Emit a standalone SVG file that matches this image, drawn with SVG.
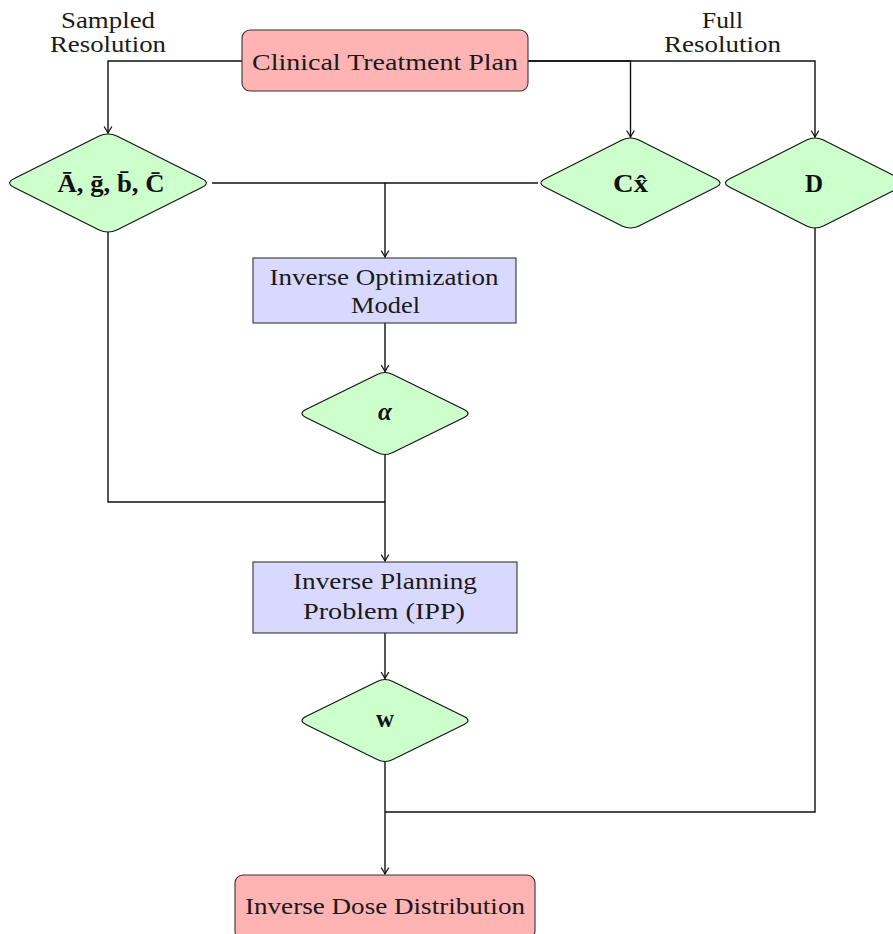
<svg xmlns="http://www.w3.org/2000/svg" xmlns:xlink="http://www.w3.org/1999/xlink" width="893" height="934" viewBox="0 0 893 934">
<style>
.t{font-family:"Liberation Serif","Times New Roman",serif;font-size:24px;fill:#1a1a1a;text-anchor:middle}
.m{font-family:"Liberation Serif","DejaVu Serif",serif;font-size:25px;font-weight:bold;fill:#111;text-anchor:middle}
.pink{fill:#ffb3b3;stroke:#333;stroke-width:1.1}
.blue{fill:#d9d9ff;stroke:#333;stroke-width:1.1}
.green{fill:#ccffcc;stroke:#111;stroke-width:1.1}
.c{fill:none;stroke:#111;stroke-width:1.4}
</style>
<defs>
<marker id="ah" viewBox="-8 -5 10 10" refX="0" refY="0" markerWidth="10" markerHeight="10" markerUnits="userSpaceOnUse" orient="auto">
<path d="M-6,-3.6 Q-2,-1 0,0 Q-2,1 -6,3.6" fill="none" stroke="#111" stroke-width="1.3" stroke-linecap="round"/>
</marker>
<path id="dL" d="M-9.3,-46.7 Q0,-51.3 9.3,-46.7 L93.7,-4.6 Q103,0 93.7,4.6 L9.3,46.7 Q0,51.3 -9.3,46.7 L-93.7,4.6 Q-103,0 -93.7,-4.6 Z"/>
<path id="dM" d="M-8.4,-42.9 Q0,-47.1 8.4,-42.9 L85.3,-4.2 Q93.7,0 85.3,4.2 L8.4,42.9 Q0,47.1 -8.4,42.9 L-85.3,4.2 Q-93.7,0 -85.3,-4.2 Z"/>
<path id="dS" d="M-7.8,-39 Q0,-42.9 7.8,-39 L79.1,-3.9 Q86.9,0 79.1,3.9 L7.8,39 Q0,42.9 -7.8,39 L-79.1,3.9 Q-86.9,0 -79.1,-3.9 Z"/>
</defs>
<rect width="893" height="934" fill="#fff"/>

<g id="connectors">
<path class="c" d="M242,61 H108 V133" marker-end="url(#ah)"/>
<path class="c" d="M528,61 H630.5 V137" marker-end="url(#ah)"/>
<path class="c" d="M528,61 H815 V137" marker-end="url(#ah)"/>
<path class="c" d="M212,183 H385 V257" marker-end="url(#ah)"/>
<path class="c" d="M538,183 H385"/>
<path class="c" d="M385,323 V371.5" marker-end="url(#ah)"/>
<path class="c" d="M108,232 V502 H385 V561" marker-end="url(#ah)"/>
<path class="c" d="M385,454.5 V502"/>
<path class="c" d="M385,633 V678.5" marker-end="url(#ah)"/>
<path class="c" d="M385,761.5 V874" marker-end="url(#ah)"/>
<path class="c" d="M815,228 V812 H385"/>
</g>

<g id="label-sampled">
<text class="t" x="108" y="28" textLength="94" lengthAdjust="spacingAndGlyphs">Sampled</text>
<text class="t" x="108" y="52" textLength="116" lengthAdjust="spacingAndGlyphs">Resolution</text>
</g>
<g id="label-full">
<text class="t" x="722.5" y="28" textLength="41" lengthAdjust="spacingAndGlyphs">Full</text>
<text class="t" x="722.5" y="52" textLength="117" lengthAdjust="spacingAndGlyphs">Resolution</text>
</g>

<g id="clinical">
<rect class="pink" x="242" y="30" width="286" height="61" rx="8"/>
<text class="t" x="385" y="70" textLength="266" lengthAdjust="spacingAndGlyphs">Clinical Treatment Plan</text>
</g>

<g id="sampled-data">
<use xlink:href="#dL" class="green" transform="translate(108,183)"/>
<text class="m" x="111" y="192" textLength="107" lengthAdjust="spacingAndGlyphs">A&#x304;, g&#x304;, b&#x304;, C&#x304;</text>
</g>

<g id="cx">
<use xlink:href="#dM" class="green" transform="translate(630.5,183)"/>
<text class="m" x="630.5" y="192" textLength="35" lengthAdjust="spacingAndGlyphs">Cx&#x302;</text>
</g>

<g id="d">
<use xlink:href="#dM" class="green" transform="translate(815,183)"/>
<text class="m" x="814" y="192">D</text>
</g>

<g id="iom">
<rect class="blue" x="253" y="258" width="263" height="65"/>
<text class="t" x="384" y="285" textLength="229" lengthAdjust="spacingAndGlyphs">Inverse Optimization</text>
<text class="t" x="385.5" y="313" textLength="69" lengthAdjust="spacingAndGlyphs">Model</text>
</g>

<g id="alpha">
<use xlink:href="#dS" class="green" transform="translate(385,413.5)"/>
<text class="m" x="385" y="420" font-style="italic" font-size="26">α</text>
</g>

<g id="ipp">
<rect class="blue" x="253" y="562" width="264" height="71"/>
<text class="t" x="385" y="589" textLength="184" lengthAdjust="spacingAndGlyphs">Inverse Planning</text>
<text class="t" x="384" y="619" textLength="162" lengthAdjust="spacingAndGlyphs">Problem (IPP)</text>
</g>

<g id="w">
<use xlink:href="#dS" class="green" transform="translate(385,720.5)"/>
<text class="m" x="385" y="727">w</text>
</g>

<g id="dose">
<rect class="pink" x="235" y="875" width="300" height="64" rx="8"/>
<text class="t" x="385" y="914" textLength="280" lengthAdjust="spacingAndGlyphs">Inverse Dose Distribution</text>
</g>
</svg>
